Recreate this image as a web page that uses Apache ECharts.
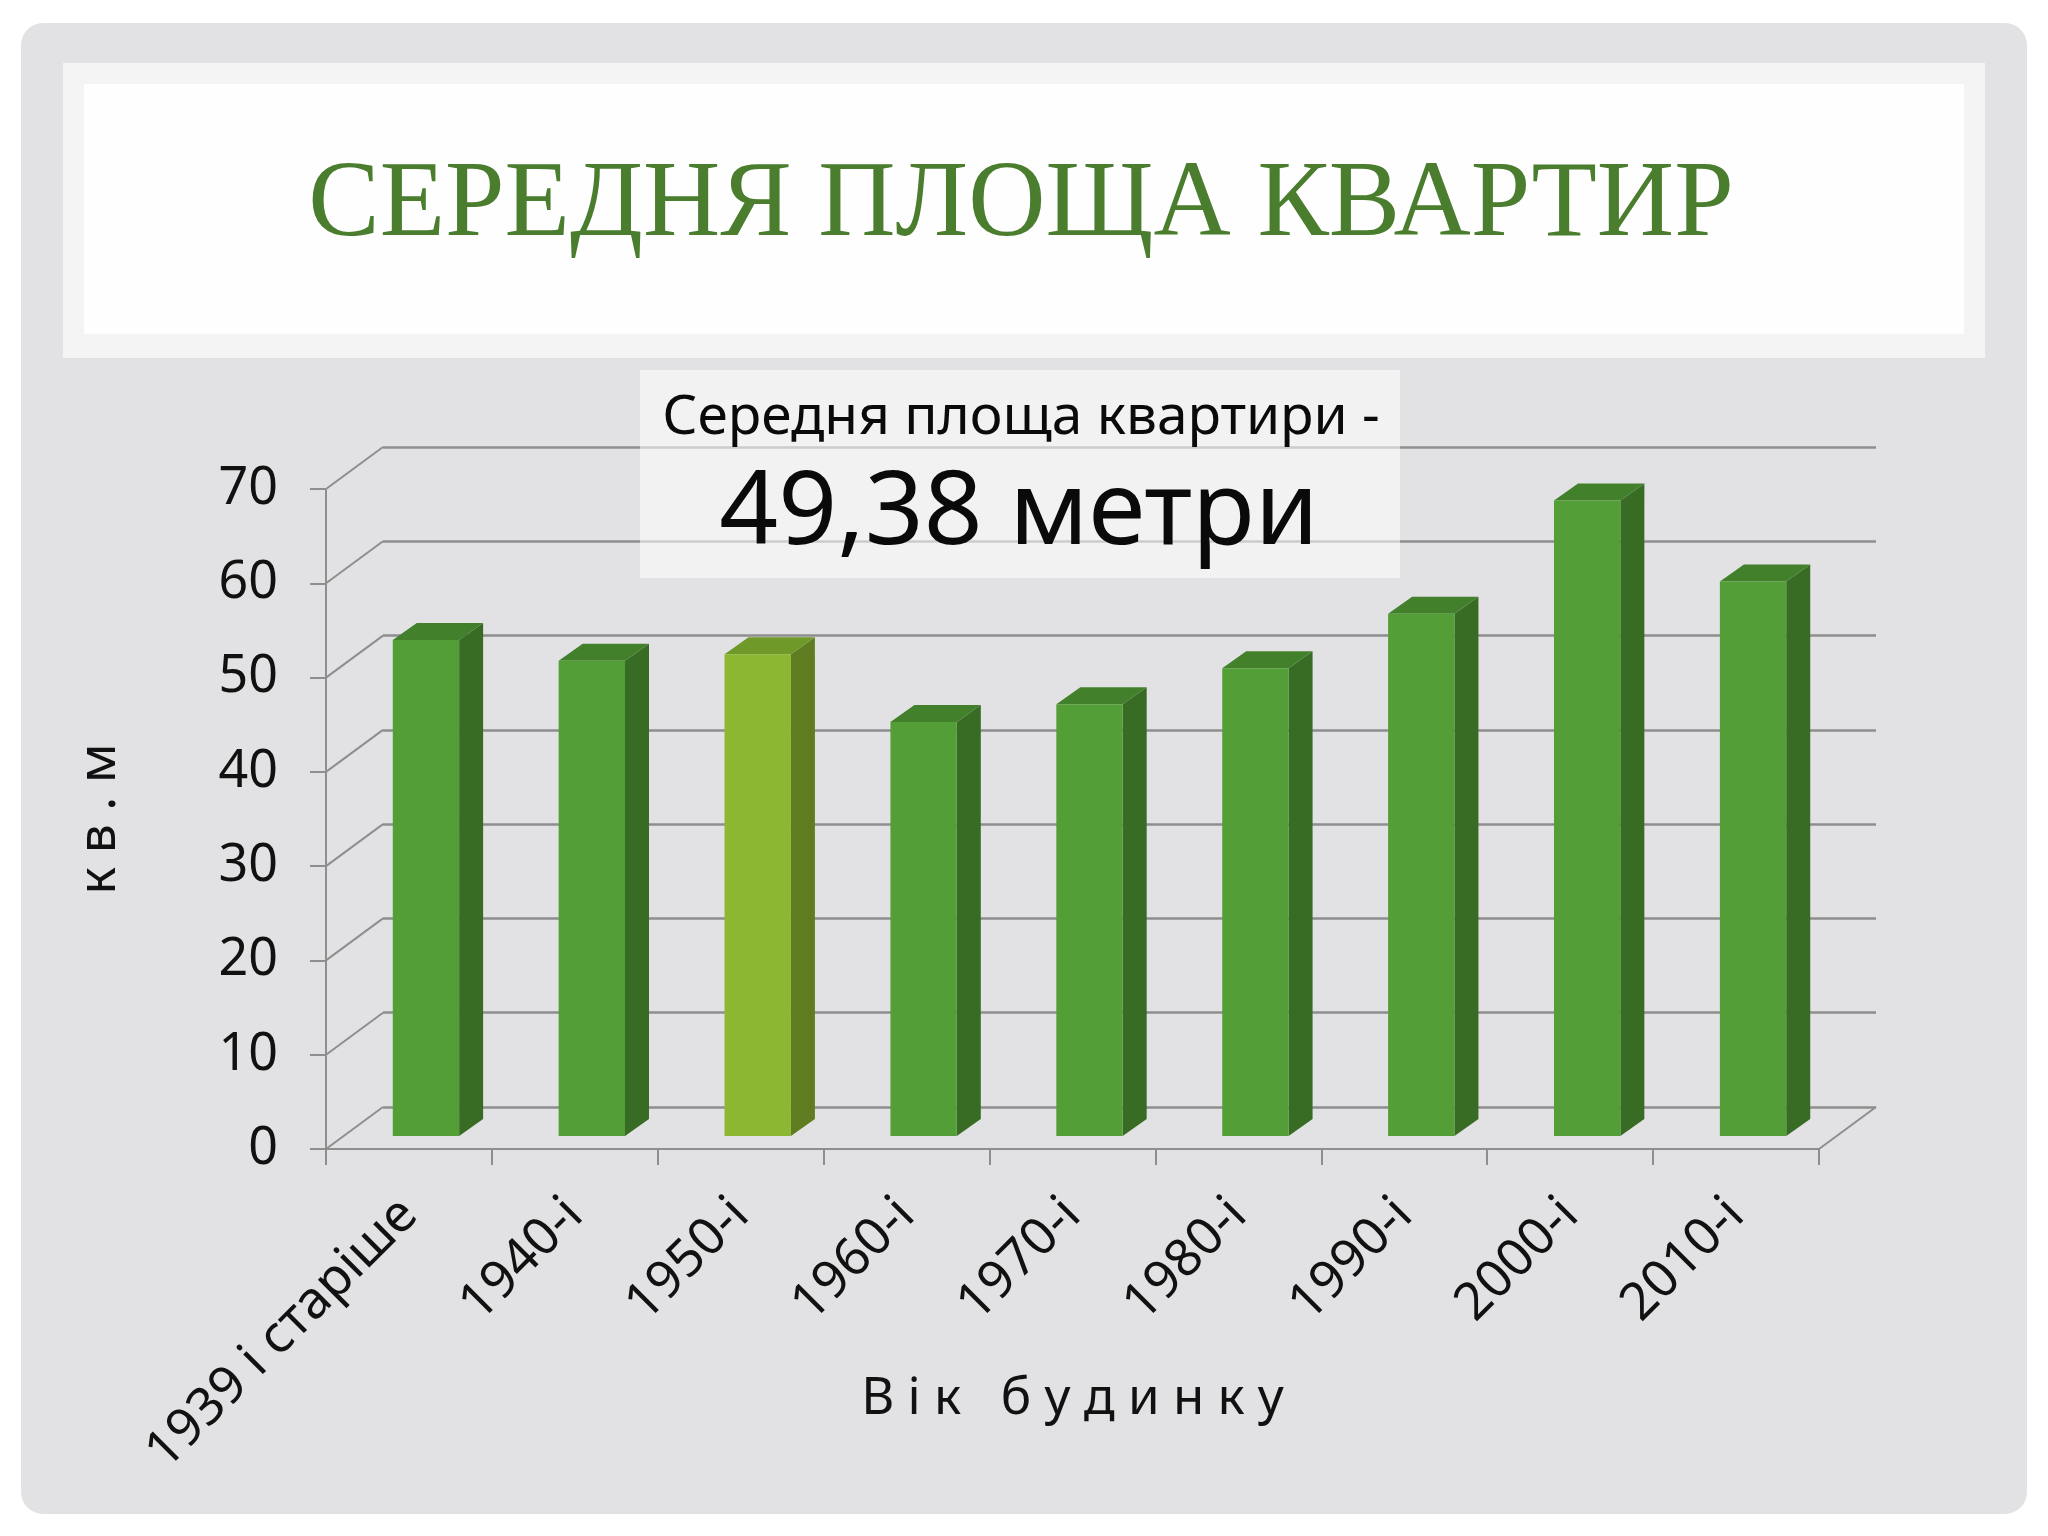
<!DOCTYPE html>
<html><head><meta charset="utf-8">
<script src="https://cdn.jsdelivr.net/npm/echarts/dist/echarts.min.js"></script>
<style>html,body{margin:0;padding:0;background:#ffffff}#chart{width:2048px;height:1536px}</style>
</head><body><div id="chart"></div>
<script>
// ---- data ----
const categories = ['1939 і старіше', '1940-і', '1950-і', '1960-і', '1970-і', '1980-і', '1990-і', '2000-і', '2010-і'];
const areaValues = [52.6, 50.4, 51.1, 43.9, 45.8, 49.6, 55.4, 67.4, 58.8];
const yTicks = [0, 10, 20, 30, 40, 50, 60, 70];
const titleText = 'СЕРЕДНЯ ПЛОЩА КВАРТИР';
const subtitleLine1 = 'Середня площа квартири -';
const subtitleLine2 = '49,38 метри';
const xAxisName = 'Вік будинку';
const yAxisName = 'к в . м';
const highlightCategory = '1950-і';

// ---- layout / style ----
const FRONT = { left: 326, right: 1819, top: 489, bottom: 1149 };
const DX = 57, DY = 42;            // depth of the plot floor/walls
const BAR_SHIFT_X = 17, BAR_SHIFT_Y = 13; // bar placement inside the depth
const BAR_DX = 24, BAR_DY = 17;    // bar depth
const GRID_COLOR = '#8e8e8e';
const FONT = "'Noto Sans', sans-serif";
const NORMAL = { front: '#549e38', side: '#386c25', top: '#43802c' };
const HIGHLIGHT = { front: '#8bb733', side: '#5f7d20', top: '#6f9a29' };

function spaced(s) { return s.split(' ').map(w => w.split('').join(' ')).join('   '); }

const chart = echarts.init(document.getElementById('chart'), null, { renderer: 'canvas' });
const gw = FRONT.right - FRONT.left, gh = FRONT.bottom - FRONT.top;

const option = {
  backgroundColor: '#ffffff',
  animation: false,
  grid: [
    { left: FRONT.left, top: FRONT.top, width: gw, height: gh, outerBoundsMode: 'none', containLabel: false },
    { left: FRONT.left + DX, top: FRONT.top - DY, width: gw, height: gh, outerBoundsMode: 'none', containLabel: false }
  ],
  xAxis: [
    {
      type: 'category', gridIndex: 0, data: categories, z: 3,
      axisLine: { show: true, lineStyle: { color: GRID_COLOR, width: 2 } },
      axisTick: { show: true, length: 16, alignWithLabel: false, lineStyle: { color: GRID_COLOR, width: 2 } },
      axisLabel: { interval: 0, rotate: 45, margin: 58, fontSize: 52, color: '#111111', fontFamily: FONT },
      splitLine: { show: false },
      name: spaced(xAxisName), nameLocation: 'middle', nameGap: 225, nameMoveOverlap: false,
      nameTextStyle: { fontSize: 51, color: '#111111', fontFamily: FONT }
    },
    {
      type: 'category', gridIndex: 1, data: categories, z: 1,
      axisLine: { show: false }, axisTick: { show: false }, axisLabel: { show: false }, splitLine: { show: false }
    }
  ],
  yAxis: [
    {
      type: 'value', gridIndex: 0, min: 0, max: 70, interval: 10, z: 3,
      axisLine: { show: true, lineStyle: { color: GRID_COLOR, width: 2 } },
      axisTick: { show: true, length: 16, lineStyle: { color: GRID_COLOR, width: 2 } },
      axisLabel: { margin: 48, fontSize: 52, color: '#111111', fontFamily: FONT },
      splitLine: { show: false },
      name: yAxisName, nameLocation: 'middle', nameGap: 200, nameRotate: 90, nameMoveOverlap: false,
      nameTextStyle: { fontSize: 52, color: '#111111', fontFamily: FONT }
    },
    {
      type: 'value', gridIndex: 1, min: 0, max: 70, interval: 10, z: 1,
      axisLine: { show: false }, axisTick: { show: false }, axisLabel: { show: false },
      splitLine: { show: true, lineStyle: { color: GRID_COLOR, width: 2.5 } }
    }
  ],
  graphic: [
    { type: 'rect', z: 0, shape: { x: 21, y: 23, width: 2006, height: 1491, r: 22 }, style: { fill: '#e2e2e4' } },
    { type: 'rect', z: 0, shape: { x: 63, y: 63, width: 1922, height: 295 }, style: { fill: '#f4f4f4' } },
    { type: 'rect', z: 0, shape: { x: 84, y: 84, width: 1880, height: 250 }, style: { fill: '#fefefe' } },
    { type: 'text', z: 6, x: 1021, y: 207, style: { text: titleText, fill: '#4a7d2d', font: "107px 'Liberation Serif', serif", align: 'center', verticalAlign: 'middle' } },
    { type: 'rect', z: 2, shape: { x: 640, y: 370, width: 760, height: 208 }, style: { fill: 'rgba(255,255,255,0.55)' } },
    { type: 'text', z: 6, x: 1021, y: 418, style: { text: subtitleLine1, fill: '#0a0a0a', font: "55px 'Noto Sans', sans-serif", align: 'center', verticalAlign: 'middle' } },
    { type: 'text', z: 6, x: 1019, y: 515, style: { text: subtitleLine2, fill: '#0a0a0a', font: "103px 'Noto Sans', sans-serif", align: 'center', verticalAlign: 'middle' } }
  ],
  series: [
    {
      type: 'custom', name: 'walls', xAxisIndex: 0, yAxisIndex: 0, z: 3, silent: true,
      data: yTicks.map(v => [0, v]),
      renderItem: function (params, api) {
        const v = api.value(1);
        const p = api.coord([0, v]);
        const band = api.size([1, 0])[0];
        const x = p[0] - band / 2;
        const st = { stroke: GRID_COLOR, lineWidth: 2 };
        const children = [{ type: 'line', shape: { x1: x, y1: p[1], x2: x + DX, y2: p[1] - DY }, style: st }];
        if (v === 0) {
          const pr = api.coord([categories.length - 1, 0]);
          const xr = pr[0] + band / 2;
          children.push({ type: 'line', shape: { x1: xr, y1: pr[1], x2: xr + DX, y2: pr[1] - DY }, style: st });
        }
        return { type: 'group', children: children };
      }
    },
    {
      type: 'custom', name: 'Середня площа', xAxisIndex: 0, yAxisIndex: 0, z: 4,
      data: areaValues.map((v, i) => [i, v]),
      renderItem: function (params, api) {
        const idx = api.value(0), v = api.value(1);
        const top = api.coord([idx, v]);
        const base = api.coord([idx, 0]);
        const band = api.size([1, 0])[0];
        const w = band * 0.4;
        const cx = base[0] + BAR_SHIFT_X;
        const x0 = cx - w / 2, x1 = cx + w / 2;
        const yb = base[1] - BAR_SHIFT_Y, yt = top[1] - BAR_SHIFT_Y;
        const c = categories[idx] === highlightCategory ? HIGHLIGHT : NORMAL;
        return {
          type: 'group',
          children: [
            { type: 'polygon', shape: { points: [[x1, yt], [x1 + BAR_DX, yt - BAR_DY], [x1 + BAR_DX, yb - BAR_DY], [x1, yb]] }, style: { fill: c.side } },
            { type: 'polygon', shape: { points: [[x0, yt], [x1, yt], [x1 + BAR_DX, yt - BAR_DY], [x0 + BAR_DX, yt - BAR_DY]] }, style: { fill: c.top } },
            { type: 'rect', shape: { x: x0, y: yt, width: w, height: yb - yt }, style: { fill: c.front } }
          ]
        };
      }
    }
  ]
};
chart.setOption(option);
</script>
</body></html>
